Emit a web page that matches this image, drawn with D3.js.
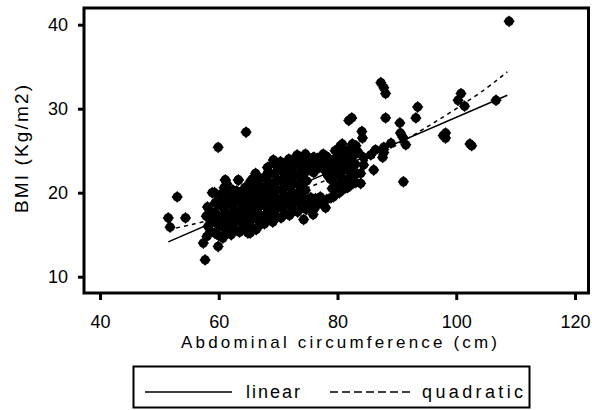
<!DOCTYPE html>
<html>
<head>
<meta charset="utf-8">
<script src="https://cdn.jsdelivr.net/npm/d3@7"></script>
<style>
  body { margin: 0; background: #fff; }
  text { font-family: "Liberation Sans", Arial, sans-serif; fill: #000; }
</style>
</head>
<body>
<div class="chart"></div>
<script>
// BMI vs abdominal circumference, scatter with linear and quadratic fits

// abdominal circumference (cm), one per subject
var waist = [
  58.0, 58.2, 57.9, 58.1,
  58.6, 58.7, 58.5,
  59.3, 59.5, 59.2, 59.4, 59.3,
  60.0, 60.1, 59.9, 60.0, 60.2,
  60.7, 60.9, 60.6, 60.8, 60.7, 60.9, 61.1,
  61.4, 61.5, 61.3, 61.4, 61.6, 61.4,
  62.1, 62.3, 62.0, 62.2, 62.1, 62.4,
  62.8, 62.9, 62.7, 62.8, 63.0,
  63.5, 63.7, 63.4, 63.6, 63.5, 63.3,
  64.2, 64.3, 64.1, 64.2, 64.4,
  64.9, 65.1, 64.8, 65.0, 64.9, 65.3,
  65.6, 65.7, 65.5, 65.6, 65.8, 65.6,
  66.3, 66.5, 66.2, 66.4, 66.3, 66.5, 66.2,
  67.0, 67.1, 66.9, 67.0, 67.2, 67.0,
  67.7, 67.9, 67.6, 67.8, 67.7, 67.9, 68.2,
  68.4, 68.5, 68.3, 68.4, 68.6, 68.4,
  69.1, 69.3, 69.0, 69.2, 69.1, 69.3, 69.2,
  69.8, 69.9, 69.7, 69.8, 70.0, 69.8, 69.9,
  70.5, 70.7, 70.4, 70.6, 70.5, 70.7, 70.4,
  71.2, 71.3, 71.1, 71.2, 71.4, 71.2,
  71.9, 72.1, 71.8, 72.0, 71.9, 72.1, 71.8,
  72.6, 72.7, 72.5, 72.6, 72.8, 72.6,
  73.3, 73.5, 73.2, 73.4, 73.3, 73.5, 73.2,
  74.0, 74.1, 73.9, 74.0, 74.2, 74.0,
  74.7, 74.9, 74.6, 74.8, 74.7, 74.9, 74.6,
  75.4, 75.5, 75.3, 75.4,
  76.1, 76.3, 76.0, 76.2, 76.1,
  76.8, 76.9, 76.7,
  77.5, 77.7, 77.4, 77.6,
  78.2, 78.3, 78.1, 78.2,
  78.9, 79.1, 78.8, 79.0, 78.9,
  79.6, 79.7, 79.5, 79.6, 79.8, 79.6,
  80.3, 80.5, 80.2, 80.4, 80.3, 80.5,
  81.0, 81.1, 80.9, 81.0, 81.2,
  81.7, 81.9, 81.6, 81.8, 81.7,
  82.4, 82.5, 82.3, 82.4,
  83.1, 83.3, 83.0, 83.2, 83.1,
  51.5, 51.8, 53.0, 54.4, 57.4, 59.9, 57.7, 58.9, 59.9, 64.6,
  61.1, 63.3, 65.3, 68.2, 69.2, 70.4, 73.2, 75.9, 74.6, 61.9, 65.3,
  77.1, 78.0, 75.9, 74.3, 79.3, 80.5, 80.0, 77.1, 75.4, 74.3,
  78.3, 80.5, 82.5, 83.9, 79.3, 80.5, 80.8, 82.5, 81.9, 82.4,
  84.1, 84.2, 83.0, 83.5, 84.4, 85.6, 86.4, 87.8, 89.0, 87.6,
  87.8, 84.4, 86.1, 83.9, 82.2, 88.1, 90.5, 90.6, 91.0, 91.5,
  87.3, 87.8, 88.1, 93.5, 93.2, 91.1, 98.2, 98.2, 97.8, 100.8,
  100.3, 101.4, 102.3, 102.6, 106.7, 108.9
];

// body mass index (kg/m2), same order as waist
var bmi = [
  14.8, 16.0, 17.2, 18.3,
  15.4, 16.6, 17.8,
  15.2, 16.4, 17.6, 18.8, 20.0,
  14.9, 16.1, 17.3, 18.5, 19.7,
  14.6, 15.8, 17.0, 18.2, 19.4, 20.6, 21.5,
  15.3, 16.5, 17.6, 18.8, 20.0, 21.0,
  15.0, 16.2, 17.3, 18.5, 19.6, 20.3,
  15.6, 16.8, 17.9, 19.1, 20.2,
  15.3, 16.5, 17.7, 18.8, 20.0, 21.5,
  15.8, 17.0, 18.2, 19.4, 20.6,
  15.2, 16.4, 17.6, 18.8, 19.9, 21.0,
  15.8, 17.1, 18.3, 19.5, 20.6, 21.6,
  15.6, 16.8, 17.9, 19.0, 20.1, 21.3, 22.3,
  16.2, 17.3, 18.4, 19.5, 20.6, 21.7,
  16.3, 17.4, 18.5, 19.6, 20.7, 21.8, 23.0,
  16.8, 17.9, 19.0, 20.1, 21.2, 22.4,
  16.5, 17.6, 18.8, 19.9, 21.0, 22.2, 23.6,
  17.1, 18.2, 19.3, 20.4, 21.5, 22.6, 23.3,
  17.0, 18.1, 19.2, 20.3, 21.4, 22.5, 23.7,
  17.5, 18.6, 19.7, 20.8, 21.9, 23.1,
  17.3, 18.4, 19.5, 20.6, 21.7, 22.8, 24.0,
  17.8, 18.9, 20.0, 21.1, 22.2, 23.5,
  17.7, 18.8, 19.9, 21.0, 22.1, 23.2, 24.4,
  18.3, 19.4, 20.5, 21.6, 22.7, 23.8,
  18.0, 19.1, 20.3, 21.4, 22.5, 23.6, 24.6,
  18.5, 19.4, 22.9, 24.0,
  18.1, 19.3, 22.4, 23.4, 24.2,
  18.7, 23.0, 24.1,
  18.6, 22.8, 23.8, 24.6,
  19.2, 22.1, 23.2, 24.3,
  19.4, 20.5, 21.6, 22.7, 23.8,
  19.8, 20.9, 22.0, 23.1, 24.2, 25.0,
  20.0, 21.1, 22.2, 23.3, 24.4, 25.6,
  20.4, 21.5, 22.6, 23.7, 24.8,
  20.6, 21.7, 22.8, 23.9, 25.0,
  21.0, 22.0, 23.1, 24.3,
  21.2, 22.3, 23.4, 24.7, 25.6,
  17.0, 15.9, 19.5, 17.0, 14.0, 13.6, 12.0, 20.0, 25.4, 27.2,
  21.5, 21.5, 21.3, 22.3, 23.9, 23.6, 24.5, 24.2, 24.2, 15.2, 15.2,
  23.9, 18.2, 17.4, 16.8, 19.5, 20.7, 20.0, 19.5, 22.7, 21.5,
  22.3, 21.9, 21.5, 21.1, 23.0, 23.5, 25.8, 25.8, 28.6, 28.9,
  27.3, 26.5, 25.3, 24.8, 24.2, 24.5, 25.1, 25.4, 25.9, 24.2,
  24.8, 23.3, 22.7, 22.3, 22.7, 28.9, 28.3, 27.1, 26.6, 25.7,
  33.1, 32.5, 31.8, 30.2, 28.9, 21.3, 27.1, 26.5, 26.8, 31.8,
  31.0, 30.3, 25.8, 25.6, 31.0, 40.4
];

// fitted lines
var linearX = [51.5, 108.6];
var linearY = [14.15, 31.6];
var quadX = [51.5, 56, 60, 65, 70, 75, 80, 85, 90, 95, 100, 105, 108.6];
var quadY = [15.6, 16.3, 17.0, 18.0, 19.3, 20.6, 22.1, 23.8, 25.7, 27.8, 30.0, 32.4, 34.4];

var xTicks = [40, 60, 80, 100, 120];
var yTicks = [10, 20, 30, 40];
var legendLabels = ["linear", "quadratic"];

var width = 592, height = 410;

var svg = d3.select(".chart").append("svg")
    .attr("width", width)
    .attr("height", height)
    .style("display", "block");

svg.append("rect")
    .attr("width", width).attr("height", height)
    .attr("fill", "#fff");

var x = d3.scaleLinear().domain([40, 120]).range([100, 575]);
var y = d3.scaleLinear().domain([10, 40]).range([276.7, 24.7]);

// stata style blob marker: diamond merged with a disc
var blob = {
  draw: function(ctx, size) {
    var r = Math.sqrt(size) / 2;
    ctx.moveTo(0, -r * 1.25);
    ctx.lineTo(r * 1.2, 0);
    ctx.lineTo(0, r * 1.25);
    ctx.lineTo(-r * 1.2, 0);
    ctx.closePath();
    ctx.moveTo(r, 0);
    ctx.arc(0, 0, r, 0, 2 * Math.PI);
  }
};

var points = waist.map(function(w, i) { return [w, bmi[i]]; });

svg.append("g").selectAll("path")
    .data(points)
    .enter()
    .append("path")
    .attr("transform", function(d) { return "translate(" + x(d[0]) + "," + y(d[1]) + ")"; })
    .attr("d", d3.symbol().type(blob).size(90))
    .attr("fill", "#000");

var line = d3.line()
    .x(function(d) { return x(d[0]); })
    .y(function(d) { return y(d[1]); });

svg.append("path")
    .datum(linearX.map(function(v, i) { return [v, linearY[i]]; }))
    .attr("d", line)
    .attr("fill", "none")
    .attr("stroke", "#000")
    .attr("stroke-width", 1.5);

svg.append("path")
    .datum(quadX.map(function(v, i) { return [v, quadY[i]]; }))
    .attr("d", line.curve(d3.curveNatural))
    .attr("fill", "none")
    .attr("stroke", "#000")
    .attr("stroke-width", 1.5)
    .attr("stroke-dasharray", "4,4");

// frame
svg.append("rect")
    .attr("x", 84).attr("y", 8)
    .attr("width", 504.5).attr("height", 285)
    .attr("fill", "none")
    .attr("stroke", "#000")
    .attr("stroke-width", 3);

var xAxis = svg.append("g")
    .attr("transform", "translate(0,293)")
    .call(d3.axisBottom(x).tickValues(xTicks).tickSize(7).tickPadding(15).tickFormat(d3.format("d")));

var yAxis = svg.append("g")
    .attr("transform", "translate(84,0)")
    .call(d3.axisLeft(y).tickValues(yTicks).tickSize(6).tickPadding(10).tickFormat(d3.format("d")));

[xAxis, yAxis].forEach(function(g) {
  g.select(".domain").remove();
  g.selectAll(".tick line").attr("stroke", "#000").attr("stroke-width", 3);
  g.selectAll(".tick text")
    .attr("fill", "#000")
    .style("font-family", "'Liberation Sans', Arial, sans-serif")
    .style("font-size", "18px");
});

svg.append("text")
    .attr("x", 181).attr("y", 348)
    .attr("textLength", 316)
    .attr("lengthAdjust", "spacing")
    .style("font-size", "17px")
    .text("Abdominal circumference (cm)");

svg.append("text")
    .attr("transform", "translate(28,213) rotate(-90)")
    .attr("textLength", 128)
    .attr("lengthAdjust", "spacing")
    .style("font-size", "19px")
    .text("BMI (Kg/m2)");

// legend
var legend = svg.append("g");

legend.append("rect")
    .attr("x", 133.5).attr("y", 366.5)
    .attr("width", 396).attr("height", 41)
    .attr("fill", "#fff")
    .attr("stroke", "#000")
    .attr("stroke-width", 2);

legend.append("line")
    .attr("x1", 145).attr("x2", 232)
    .attr("y1", 392).attr("y2", 392)
    .attr("stroke", "#000").attr("stroke-width", 1.5);

legend.append("line")
    .attr("x1", 330).attr("x2", 413)
    .attr("y1", 392).attr("y2", 392)
    .attr("stroke", "#000").attr("stroke-width", 1.5)
    .attr("stroke-dasharray", "8,4");

legend.append("text")
    .attr("x", 246).attr("y", 398)
    .attr("textLength", 54)
    .attr("lengthAdjust", "spacing")
    .style("font-size", "18px")
    .text(legendLabels[0]);

legend.append("text")
    .attr("x", 422).attr("y", 398)
    .attr("textLength", 101)
    .attr("lengthAdjust", "spacing")
    .style("font-size", "18px")
    .text(legendLabels[1]);
</script>
</body>
</html>
